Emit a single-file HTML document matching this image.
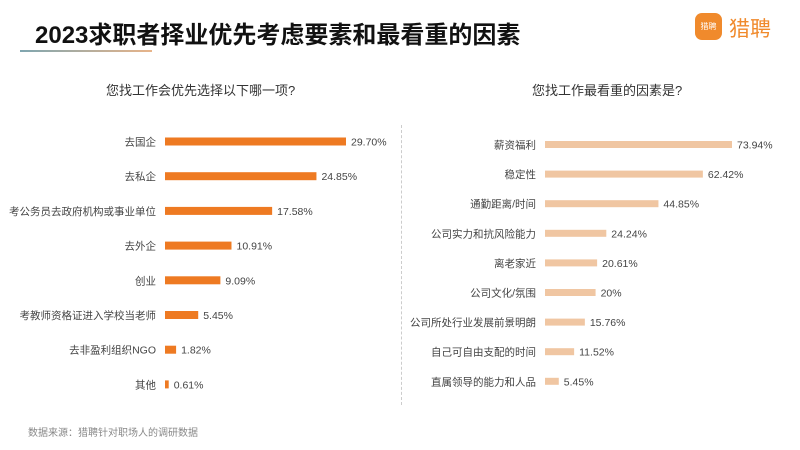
<!DOCTYPE html>
<html><head><meta charset="utf-8"><style>
body{margin:0;width:800px;height:450px;background:#fff;overflow:hidden;font-family:"Liberation Sans","Noto Sans CJK SC",sans-serif;position:relative}
.t{position:absolute;white-space:nowrap}
</style></head><body>
<div class="t" style="left:35px;top:15px;font-size:24px;font-weight:bold;color:#111">2023求职者择业优先考虑要素和最看重的因素</div>
<div style="position:absolute;left:20px;top:50px;width:132px;height:2px;background:linear-gradient(90deg,#7fa6b0,#e8b48a)"></div>
<div style="position:absolute;left:695px;top:13px;width:90px;height:32px">
 <div style="position:absolute;left:0;top:0;width:27px;height:27px;border-radius:7px;background:#f08a2c;color:#fff;font-size:8px;line-height:27px;text-align:center">猎聘</div>
 <div class="t" style="left:34px;top:0;font-size:21px;color:#f08a2c">猎聘</div>
</div>
<div class="t" style="left:106px;top:80px;font-size:13px;color:#333">您找工作会优先选择以下哪一项?</div>
<div class="t" style="left:532px;top:80px;font-size:13px;color:#333">您找工作最看重的因素是?</div>
<div style="position:absolute;left:401px;top:125px;height:280px;border-left:1px dashed #ccc"></div>
<div class="t" style="left:28px;top:424px;font-size:10px;color:#888">数据来源：猎聘针对职场人的调研数据</div>
<svg id="c" width="800" height="450" style="position:absolute;left:0;top:0"></svg>
<script>
const leftCats=["去国企","去私企","考公务员去政府机构或事业单位","去外企","创业","考教师资格证进入学校当老师","去非盈利组织NGO","其他"];
const leftVals=[29.70,24.85,17.58,10.91,9.09,5.45,1.82,0.61];
const leftLabels=["29.70%","24.85%","17.58%","10.91%","9.09%","5.45%","1.82%","0.61%"];
const rightCats=["薪资福利","稳定性","通勤距离/时间","公司实力和抗风险能力","离老家近","公司文化/氛围","公司所处行业发展前景明朗","自己可自由支配的时间","直属领导的能力和人品"];
const rightVals=[73.94,62.42,44.85,24.24,20.61,20,15.76,11.52,5.45];
const rightLabels=["73.94%","62.42%","44.85%","24.24%","20.61%","20%","15.76%","11.52%","5.45%"];
const svg=document.getElementById('c');const NS='http://www.w3.org/2000/svg';
function draw(cats,vals,labels,x0,scale,y0,step,h,color){
 cats.forEach((c,i)=>{
  const y=y0+i*step;const w=Math.max(vals[i]*scale,2);
  const r=document.createElementNS(NS,'rect');
  r.setAttribute('x',x0);r.setAttribute('y',y-h/2);r.setAttribute('width',w);r.setAttribute('height',h);r.setAttribute('fill',color);
  
  
  svg.appendChild(r);
  const t=document.createElementNS(NS,'text');
  t.setAttribute('x',x0-9);t.setAttribute('y',y+4);t.setAttribute('text-anchor','end');t.setAttribute('font-size','10.5');t.setAttribute('fill','#444');t.textContent=c;
  
  
  svg.appendChild(t);
  const v=document.createElementNS(NS,'text');
  v.setAttribute('x',x0+w+5);v.setAttribute('y',y+4);v.setAttribute('font-size','10.5');v.setAttribute('fill','#444');v.textContent=labels[i];
  
  
  svg.appendChild(v);
 });
}
svg.style.fontFamily='"Liberation Sans","Noto Sans CJK SC",sans-serif';
draw(leftCats,leftVals,leftLabels,165,181/29.7,141.5,34.7,8,'#ee7a22');
draw(rightCats,rightVals,rightLabels,545,187/73.94,144.5,29.6,7,'#f0c6a2');
</script>
</body></html>
